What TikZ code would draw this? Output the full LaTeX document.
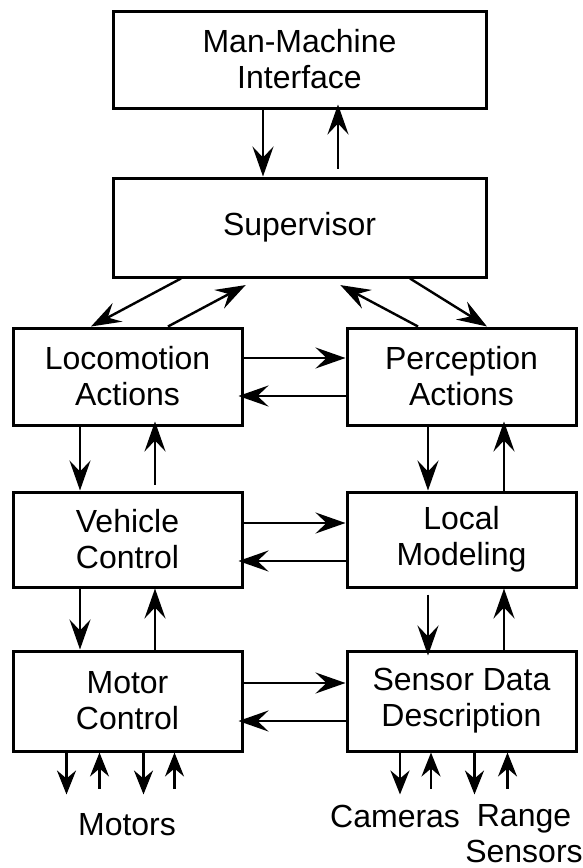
\documentclass[tikz,border=0pt]{standalone}
\usepackage{fontspec}
\setmainfont{Liberation Sans}
\usetikzlibrary{arrows.meta, positioning}

\begin{document}
\begin{tikzpicture}[
  x=1pt, y=1pt,
  box/.style={rectangle, draw=black, line width=3pt, minimum width=229pt,
              minimum height=97pt, inner sep=0pt, align=center,
              font=\fontsize{32}{36}\selectfont},
  wide/.style={box, minimum width=373pt},
  lbl/.style={inner sep=0pt, align=center, font=\fontsize{32}{36}\selectfont},
  arr/.style={-{Stealth[length=30pt, width=21pt, inset=11pt]}, line width=2.4pt},
  pin/.style={-{Stealth[length=24pt, width=19pt, inset=8pt]}, line width=2.4pt}
]
  \useasboundingbox (0,0) rectangle (583,-868);

  \node[wide] (mmi) at (299.5,-59.5) {Man-Machine\\Interface};
  \node[wide, minimum height=99pt, below=67pt of mmi] (sup) {Supervisor};
  \node[box] (loco) at (127.5,-376.5) {Locomotion\\Actions};
  \node[box, right=102pt of loco] (perc) {Perception\\Actions};
  \node[box, minimum height=95pt, below=64pt of loco] (veh) {Vehicle\\Control};
  \node[box, minimum height=95pt, right=102pt of veh] (model) {Local\\Modeling};
  \node[box, minimum height=100pt, below=61pt of veh] (motor) {Motor\\Control};
  \node[box, minimum height=100pt, right=102pt of motor] (sdd) {Sensor Data\\Description};

  % man-machine interface <-> supervisor
  \draw[arr] ([xshift=-36.5pt]mmi.south) -- ([xshift=-36.5pt]sup.north);
  \draw[arr, shorten <=8pt, shorten >=-5pt] ([xshift=38.5pt]sup.north) -- ([xshift=38.5pt]mmi.south);

  % supervisor <-> actions
  \draw[arr] ([xshift=-118.5pt]sup.south) -- ([xshift=-36.5pt]loco.north);
  \draw[arr, shorten >=14pt] ([xshift=40.5pt]loco.north) -- ([xshift=-41.5pt]sup.south);
  \draw[arr, shorten >=14pt] ([xshift=-43.5pt]perc.north) -- ([xshift=28.5pt]sup.south);
  \draw[arr] ([xshift=110.5pt]sup.south) -- ([xshift=25.5pt]perc.north);

  % across
  \draw[arr] ([yshift=18.5pt]loco.east) -- ([yshift=18.5pt]perc.west);
  \draw[arr, shorten >=-5pt] ([yshift=-19.5pt]perc.west) -- ([yshift=-19.5pt]loco.east);
  \draw[arr] ([yshift=16.5pt]veh.east) -- ([yshift=16.5pt]model.west);
  \draw[arr, shorten >=-5pt] ([yshift=-21.5pt]model.west) -- ([yshift=-21.5pt]veh.east);
  \draw[arr] ([yshift=18pt]motor.east) -- ([yshift=18pt]sdd.west);
  \draw[arr, shorten >=-5pt] ([yshift=-20pt]sdd.west) -- ([yshift=-20pt]motor.east);

  % down and up, left column
  \draw[arr] ([xshift=-47.5pt]loco.south) -- ([xshift=-47.5pt]veh.north);
  \draw[arr, shorten <=6pt, shorten >=-5pt] ([xshift=27.5pt]veh.north) -- ([xshift=27.5pt]loco.south);
  \draw[arr] ([xshift=-47.5pt]veh.south) -- ([xshift=-47.5pt]motor.north);
  \draw[arr] ([xshift=27.5pt]motor.north) -- ([xshift=27.5pt]veh.south);

  % down and up, right column
  \draw[arr] ([xshift=-33.5pt]perc.south) -- ([xshift=-33.5pt]model.north);
  \draw[arr, shorten >=-5pt] ([xshift=42.5pt]model.north) -- ([xshift=42.5pt]perc.south);
  \draw[arr, shorten <=6pt, shorten >=-6pt] ([xshift=-33.5pt]model.south) -- ([xshift=-33.5pt]sdd.north);
  \draw[arr] ([xshift=42.5pt]sdd.north) -- ([xshift=42.5pt]model.south);

  % motors and sensors
  \foreach \dx [count=\i] in {-61, 16} {
    \coordinate (mo\i) at ([xshift=\dx pt, yshift=-42pt]motor.south);
    \draw[pin] ([xshift=\dx pt]motor.south) -- (mo\i);
  }
  \foreach \dx [count=\i] in {-28, 47} {
    \coordinate (mi\i) at ([xshift=\dx pt, yshift=-36pt]motor.south);
    \draw[pin] (mi\i) -- ([xshift=\dx pt]motor.south);
  }
  \foreach \dx [count=\i] in {-61.5, 13} {
    \coordinate (so\i) at ([xshift=\dx pt, yshift=-42pt]sdd.south);
    \draw[pin] ([xshift=\dx pt]sdd.south) -- (so\i);
  }
  \foreach \dx [count=\i] in {-30.5, 46} {
    \coordinate (si\i) at ([xshift=\dx pt, yshift=-36pt]sdd.south);
    \draw[pin] (si\i) -- ([xshift=\dx pt]sdd.south);
  }

  \node[lbl, anchor=base] (motors) at (127,-835) {Motors};
  \node[lbl, anchor=base west] (cams) at (330,-827) {Cameras};
  \node[lbl, anchor=north] (range) at (524,-804) {Range\\Sensors};
\end{tikzpicture}
\end{document}
